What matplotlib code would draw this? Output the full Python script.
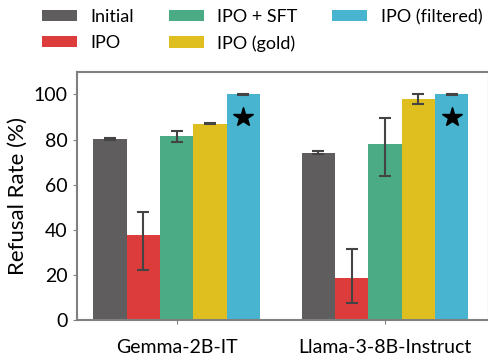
import numpy as np
import matplotlib.pyplot as plt

plt.rcParams['font.family'] = ['Lato', 'DejaVu Sans']

models = ['Gemma-2B-IT', 'Llama-3-8B-Instruct']
methods = ['Initial', 'IPO', 'IPO + SFT', 'IPO (gold)', 'IPO (filtered)']
colors = ['#5f5d5e', '#dd3c3c', '#4aab84', '#dfbf1f', '#48b4d0']

# refusal rate (%) per method, [gemma, llama]
means = {
    'Initial':        [80.4, 74.2],
    'IPO':            [37.8, 18.7],
    'IPO + SFT':      [81.8, 78.2],
    'IPO (gold)':     [87.1, 97.8],
    'IPO (filtered)': [100.0, 100.0],
}
err_low = {
    'Initial':        [0.4, 0.8],
    'IPO':            [15.6, 11.3],
    'IPO + SFT':      [2.7, 14.2],
    'IPO (gold)':     [0.4, 2.1],
    'IPO (filtered)': [0.2, 0.2],
}
err_high = {
    'Initial':        [0.4, 0.8],
    'IPO':            [10.1, 13.0],
    'IPO + SFT':      [1.8, 11.3],
    'IPO (gold)':     [0.4, 2.3],
    'IPO (filtered)': [0.2, 0.2],
}
star_y = [89.8, 89.8]

x = np.arange(len(models))
width = 0.16

fig = plt.figure(figsize=(4.89, 3.56), dpi=100)
ax = fig.add_axes([0.157, 0.101, 0.843, 0.697])

for i, m in enumerate(methods):
    pos = x + (i - 2) * width
    ax.bar(pos, means[m], width, color=colors[i], label=m,
           yerr=[err_low[m], err_high[m]], capsize=4,
           error_kw=dict(ecolor='#444444', elinewidth=1.5, capthick=1.5))

ax.plot(x + 2 * width, star_y, linestyle='none', marker='*',
        color='black', markersize=15)

ax.set_xlim(-0.48, 1.5)
ax.set_ylim(0, 110)
ax.set_xticks(x)
ax.set_xticklabels(models, fontsize=14)
ax.set_yticks([0, 20, 40, 60, 80, 100])
ax.tick_params(axis='y', labelsize=14, length=3, color='#808080')
ax.tick_params(axis='x', length=3, color='#808080', pad=11)
ax.set_ylabel('Refusal Rate (%)', fontsize=16)
for s in ax.spines.values():
    s.set_color('#808080')
    s.set_linewidth(1.5)

fig.legend(loc='upper left', bbox_to_anchor=(0.086, 0.975), ncol=3,
           frameon=False, fontsize=13, handlelength=1.95, handleheight=0.6,
           handletextpad=0.75, columnspacing=1.9, labelspacing=0.55,
           borderpad=0, borderaxespad=0)

fig.savefig('out.png', dpi=100)
